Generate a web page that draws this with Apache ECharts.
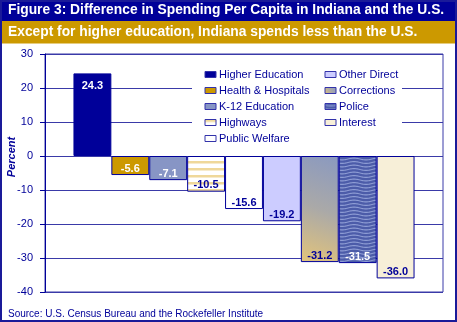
<!DOCTYPE html>
<html><head><meta charset="utf-8">
<script src="https://cdn.jsdelivr.net/npm/echarts@6/dist/echarts.min.js"></script>
<style>html,body{margin:0;padding:0;background:#fff}#c{width:457px;height:322px}</style>
</head><body><div id="c"></div>
<script>
// ---- data ----
const categories = [''];
const seriesNames = ['Higher Education','Health & Hospitals','K-12 Education','Highways','Public Welfare','Other Direct','Corrections','Police','Interest'];
const seriesValues = [24.3, -5.6, -7.1, -10.5, -15.6, -19.2, -31.2, -31.5, -36.0];
const yMin = -40, yMax = 30, yStep = 10;
const titleText = 'Figure 3: Difference in Spending Per Capita in Indiana and the U.S.';
const subtitleText = 'Except for higher education, Indiana spends less than the U.S.';
const sourceText = 'Source: U.S. Census Bureau and the Rockefeller Institute';
const axisNameText = 'Percent';

// ---- styles ----
const NAVY = '#000099';
const FONT = "'Liberation Sans', Arial, sans-serif";

function stripePattern(){
  const c = document.createElement('canvas'); c.width = 8; c.height = 7;
  const g = c.getContext('2d');
  g.fillStyle = '#ffffff'; g.fillRect(0,0,8,7);
  g.fillStyle = '#efd89a'; g.fillRect(0,0,8,2.5);
  return c;
}
function wavePattern(){
  const w = 24, h = 7;
  const c = document.createElement('canvas'); c.width = w; c.height = h;
  const g = c.getContext('2d');
  g.fillStyle = '#4c5ca9'; g.fillRect(0,0,w,h);
  g.strokeStyle = '#8d9cd4'; g.lineWidth = 1.1;
  [1.5, 5].forEach(function(base){
    g.beginPath();
    for (let x = 0; x <= w; x++) {
      const y = base + 0.9 * Math.sin(2 * Math.PI * x / w);
      if (x === 0) g.moveTo(x, y); else g.lineTo(x, y);
    }
    g.stroke();
  });
  return c;
}

const fills = [
  NAVY,
  '#cc9900',
  '#8795c5',
  {image: stripePattern(), repeat: 'repeat'},
  '#ffffff',
  '#ccccff',
  new echarts.graphic.LinearGradient(1, 0, 0, 1, [{offset:0, color:'#8a99c0'},{offset:0.5,color:'#aaa9a8'},{offset:1, color:'#e3c47a'}]),
  {image: wavePattern(), repeat: 'repeat'},
  '#f7efd8'
];
const labelColors = ['#ffffff','#ffffff','#ffffff',NAVY,NAVY,NAVY,NAVY,'#ffffff',NAVY];

const chart = echarts.init(document.getElementById('c'), null, {renderer: 'canvas'});

const series = seriesNames.map(function(name, i){
  const v = seriesValues[i];
  return {
    name: name,
    type: 'bar',
    data: [v],
    barGap: '0%',
    barCategoryGap: '14.3%',
    itemStyle: {color: fills[i], borderColor: NAVY, borderWidth: 1},
    label: {
      show: true,
      position: v >= 0 ? 'insideTop' : 'insideBottom',
      distance: v >= 0 ? 7 : 1,
      color: labelColors[i],
      fontSize: 11, fontWeight: 'bold', fontFamily: FONT,
      formatter: function(p){ return p.value.toFixed(1); }
    },
    emphasis: {disabled: true},
    animation: false
  };
});

const legendText = {fontSize: 11, color: NAVY, fontFamily: FONT, lineHeight: 12, padding: [0,0,0,-2]};
const legendBase = {orient: 'vertical', top: 68.5, padding: 0, itemGap: 4,
  itemWidth: 11, itemHeight: 6, icon: 'rect', textStyle: legendText, selectedMode: false,
  itemStyle: {borderWidth: 1, borderColor: '#3333aa'}};

chart.setOption({
  animation: false,
  backgroundColor: '#ffffff',
  grid: {left: 45, right: 14, top: 54, height: 238, show: true, borderColor: '#3a3aa8', borderWidth: 1, backgroundColor: 'transparent'},
  xAxis: {type: 'category', data: categories, axisLine: {show: false}, axisTick: {show: false}, axisLabel: {show: false}, splitLine: {show: false}},
  yAxis: {
    type: 'value', min: yMin, max: yMax, interval: yStep,
    axisLine: {show: true, lineStyle: {color: NAVY, width: 1}},
    axisTick: {show: true, length: 5, lineStyle: {color: NAVY}},
    axisLabel: {color: NAVY, fontSize: 11, fontFamily: FONT, margin: 12},
    splitLine: {show: true, lineStyle: {color: '#3a3aa8', width: 1}}
  },
  legend: [
    Object.assign({data: seriesNames.slice(0,5), left: 204.5}, legendBase),
    Object.assign({data: seriesNames.slice(5), left: 324.5}, legendBase)
  ],
  graphic: {elements: [
    {type: 'rect', z: 1, shape: {x: 192, y: 63, width: 210, height: 84}, style: {fill: '#ffffff'}},
    {type: 'rect', z: 5, shape: {x: 0, y: 0, width: 457, height: 21}, style: {fill: NAVY}},
    {type: 'rect', z: 5, shape: {x: 0, y: 21, width: 457, height: 22.5}, style: {fill: '#cc9900'}},
    {type: 'text', z: 6, x: 8, y: 10.5, style: {text: titleText, fill: '#ffffff', font: 'bold 13.8px ' + FONT, align: 'left', verticalAlign: 'middle'}},
    {type: 'text', z: 6, x: 8, y: 32.5, style: {text: subtitleText, fill: '#ffffff', font: 'bold 13.8px ' + FONT, align: 'left', verticalAlign: 'middle'}},
    {type: 'text', z: 6, x: 12, y: 157, rotation: Math.PI / 2, style: {text: axisNameText, fill: NAVY, font: 'italic bold 11px ' + FONT, align: 'center', verticalAlign: 'middle'}},
    {type: 'text', z: 6, x: 8, y: 314, style: {text: sourceText, fill: NAVY, font: '10px ' + FONT, align: 'left', verticalAlign: 'middle'}},
    {type: 'rect', z: 10, shape: {x: 1, y: 1, width: 455, height: 320}, style: {fill: 'none', stroke: '#1a1a99', lineWidth: 2}}
  ]},
  series: series
});
</script>
</body></html>
